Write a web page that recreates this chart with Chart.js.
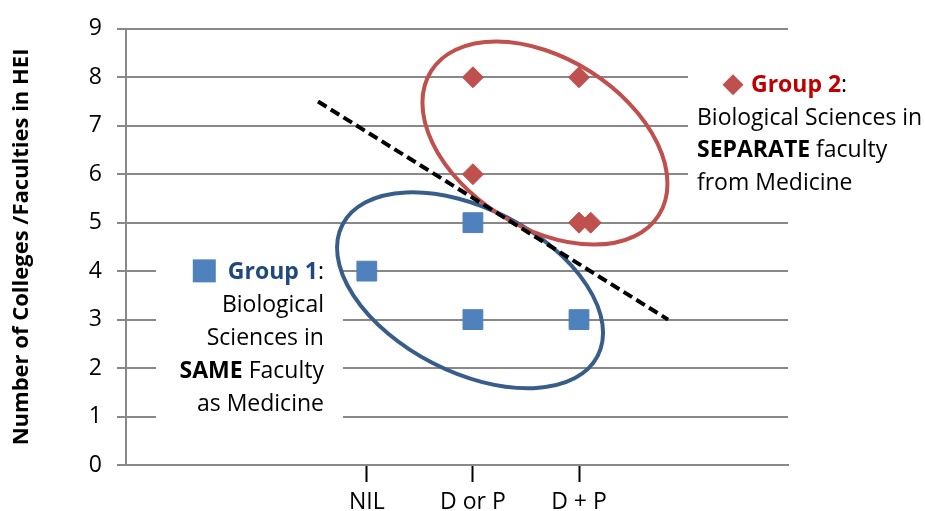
<!DOCTYPE html>
<html>
<head>
<meta charset="utf-8">
<script src="https://cdn.jsdelivr.net/npm/chart.js@4.4.1/dist/chart.umd.min.js"></script>
<style>
  html, body { margin: 0; padding: 0; background: #fff; }
  canvas { display: block; }
</style>
</head>
<body>
<canvas id="chart" width="925" height="511"></canvas>
<script>
// categories on the x axis and where they sit on the linear scale
const categories = ['NIL', 'D or P', 'D + P'];
const categoryPos = [1, 2, 3];

// y ticks
const yTickValues = [0, 1, 2, 3, 4, 5, 6, 7, 8, 9];

// Group 1: biological sciences in the same faculty as medicine
const group1X = [1, 2, 2, 3];
const group1Y = [4, 5, 3, 3];

// Group 2: biological sciences in a separate faculty
const group2X = [2, 3, 2, 3, 3.11];
const group2Y = [8, 8, 6, 5, 5];

// dashed dividing line
const dividerX = [0.54, 3.84];
const dividerY = [7.5, 3.0];

const FONT = "'Open Sans', sans-serif";
const TEXT_SIZE = 23;
const GRID = '#888888';

function toPoints(xs, ys) {
    return xs.map((x, i) => ({ x: x, y: ys[i] }));
}

// draws one line made of plain / bold pieces, returns where it starts
function drawPieces(ctx, pieces, x, y, align) {
    const widths = pieces.map(p => {
        ctx.font = (p.bold ? 'bold ' : '') + TEXT_SIZE + 'px ' + FONT;
        return ctx.measureText(p.text).width;
    });
    const total = widths.reduce((a, b) => a + b, 0);
    let cx = align === 'right' ? x - total : x;
    const start = cx;
    pieces.forEach((p, i) => {
        ctx.font = (p.bold ? 'bold ' : '') + TEXT_SIZE + 'px ' + FONT;
        ctx.fillStyle = p.color || '#000';
        ctx.fillText(p.text, cx, y);
        cx += widths[i];
    });
    return start;
}

// white text boxes, group ellipses and the notes
const notesPlugin = {
    id: 'notes',
    beforeDatasetsDraw(chart, args, opts) {
        const ctx = chart.ctx;
        const xs = chart.scales.x, ys = chart.scales.y;
        ctx.save();

        // Group 1 note (right aligned)
        const n1 = opts.group1;
        const r1 = xs.getPixelForValue(n1.x);
        const b1 = ys.getPixelForValue(n1.y);
        ctx.fillStyle = '#fff';
        ctx.fillRect(r1 - 168, b1 - 34, 187, 185);

        // Group 2 note (left aligned)
        const n2 = opts.group2;
        const l2 = xs.getPixelForValue(n2.x);
        const b2 = ys.getPixelForValue(n2.y);
        ctx.fillStyle = '#fff';
        ctx.fillRect(l2 - 9, b2 - 36, chart.width - l2 + 9, 145);

        // ellipses
        opts.ellipses.forEach(e => {
            ctx.beginPath();
            ctx.ellipse(xs.getPixelForValue(e.x), ys.getPixelForValue(e.y),
                e.rx, e.ry, e.angle * Math.PI / 180, 0, Math.PI * 2);
            ctx.strokeStyle = e.color;
            ctx.lineWidth = 4;
            ctx.stroke();
        });

        ctx.textBaseline = 'alphabetic';
        const lh = opts.lineHeight;

        // Group 1 text
        let start = 0;
        n1.lines.forEach((line, i) => {
            const s = drawPieces(ctx, line, r1, b1 + i * lh, 'right');
            if (i === 0) start = s;
        });
        ctx.fillStyle = '#4F81BD';
        ctx.fillRect(start - 35, b1 - 20, 23, 23);

        // Group 2 text
        n2.lines.forEach((line, i) => {
            drawPieces(ctx, line, i === 0 ? l2 + 54 : l2, b2 + i * lh, 'left');
        });
        const dx = l2 + 36, dy = b2 - 7, d = 10.5;
        ctx.beginPath();
        ctx.moveTo(dx - d, dy);
        ctx.lineTo(dx, dy - d);
        ctx.lineTo(dx + d, dy);
        ctx.lineTo(dx, dy + d);
        ctx.closePath();
        ctx.fillStyle = '#C0504D';
        ctx.fill();

        ctx.restore();
    }
};

new Chart(document.getElementById('chart'), {
    type: 'scatter',
    data: {
        datasets: [
            {
                type: 'line',
                label: 'Divider',
                data: toPoints(dividerX, dividerY),
                borderColor: '#000',
                borderWidth: 4,
                borderDash: [10, 5],
                pointRadius: 0,
                fill: false,
                order: 0
            },
            {
                label: 'Group 1',
                data: toPoints(group1X, group1Y),
                pointStyle: 'rect',
                pointRadius: 14,
                backgroundColor: '#4F81BD',
                borderColor: '#4F81BD',
                borderWidth: 1,
                order: 1
            },
            {
                label: 'Group 2',
                data: toPoints(group2X, group2Y),
                pointStyle: 'rectRot',
                pointRadius: 10.5,
                backgroundColor: '#C0504D',
                borderColor: '#C0504D',
                borderWidth: 1,
                order: 1
            }
        ]
    },
    options: {
        responsive: false,
        devicePixelRatio: 1,
        animation: false,
        events: [],
        layout: { padding: { top: 28, right: 137, left: 0, bottom: 0 } },
        scales: {
            x: {
                type: 'linear',
                min: -1.27,
                max: 4.97,
                afterFit: s => { s.height = 46; },
                afterBuildTicks: s => { s.ticks = categoryPos.map(v => ({ value: v })); },
                ticks: {
                    callback: v => categories[categoryPos.indexOf(v)],
                    font: { family: FONT, size: TEXT_SIZE },
                    color: '#000',
                    padding: 7,
                    maxRotation: 0,
                    autoSkip: false
                },
                grid: {
                    drawOnChartArea: false,
                    drawTicks: true,
                    tickLength: 17,
                    tickColor: '#000',
                    tickWidth: 2
                },
                border: { color: GRID, width: 2 }
            },
            y: {
                min: 0,
                max: 9,
                afterFit: s => { s.width = 126; },
                afterBuildTicks: s => { s.ticks = yTickValues.map(v => ({ value: v })); },
                ticks: {
                    font: { family: FONT, size: TEXT_SIZE },
                    color: '#000',
                    padding: 15
                },
                grid: {
                    color: GRID,
                    lineWidth: 2,
                    tickLength: 9,
                    tickColor: GRID
                },
                border: { color: GRID, width: 2 },
                title: {
                    display: true,
                    text: 'Number of Colleges /Faculties in HEI',
                    font: { family: FONT, size: 22, weight: 'bold' },
                    color: '#000',
                    padding: { top: 9, bottom: 0 }
                }
            }
        },
        plugins: {
            legend: { display: false },
            tooltip: { enabled: false },
            notes: {
                lineHeight: 32.8,
                group1: {
                    x: 0.596, y: 3.83,
                    lines: [
                        [{ text: 'Group 1', bold: true, color: '#1F497D' }, { text: ':' }],
                        [{ text: 'Biological' }],
                        [{ text: 'Sciences in' }],
                        [{ text: 'SAME', bold: true }, { text: ' Faculty' }],
                        [{ text: 'as Medicine' }]
                    ]
                },
                group2: {
                    x: 4.112, y: 7.70,
                    lines: [
                        [{ text: 'Group 2', bold: true, color: '#C00000' }, { text: ':' }],
                        [{ text: 'Biological Sciences in' }],
                        [{ text: 'SEPARATE', bold: true }, { text: ' faculty' }],
                        [{ text: 'from Medicine' }]
                    ]
                },
                ellipses: [
                    { x: 1.973, y: 3.604, rx: 143.5, ry: 81.8, angle: 27.2, color: '#385D8A' },
                    { x: 2.679, y: 6.642, rx: 134.7, ry: 84.7, angle: 32.3, color: '#C0504D' }
                ]
            }
        }
    },
    plugins: [notesPlugin]
});
</script>
</body>
</html>
